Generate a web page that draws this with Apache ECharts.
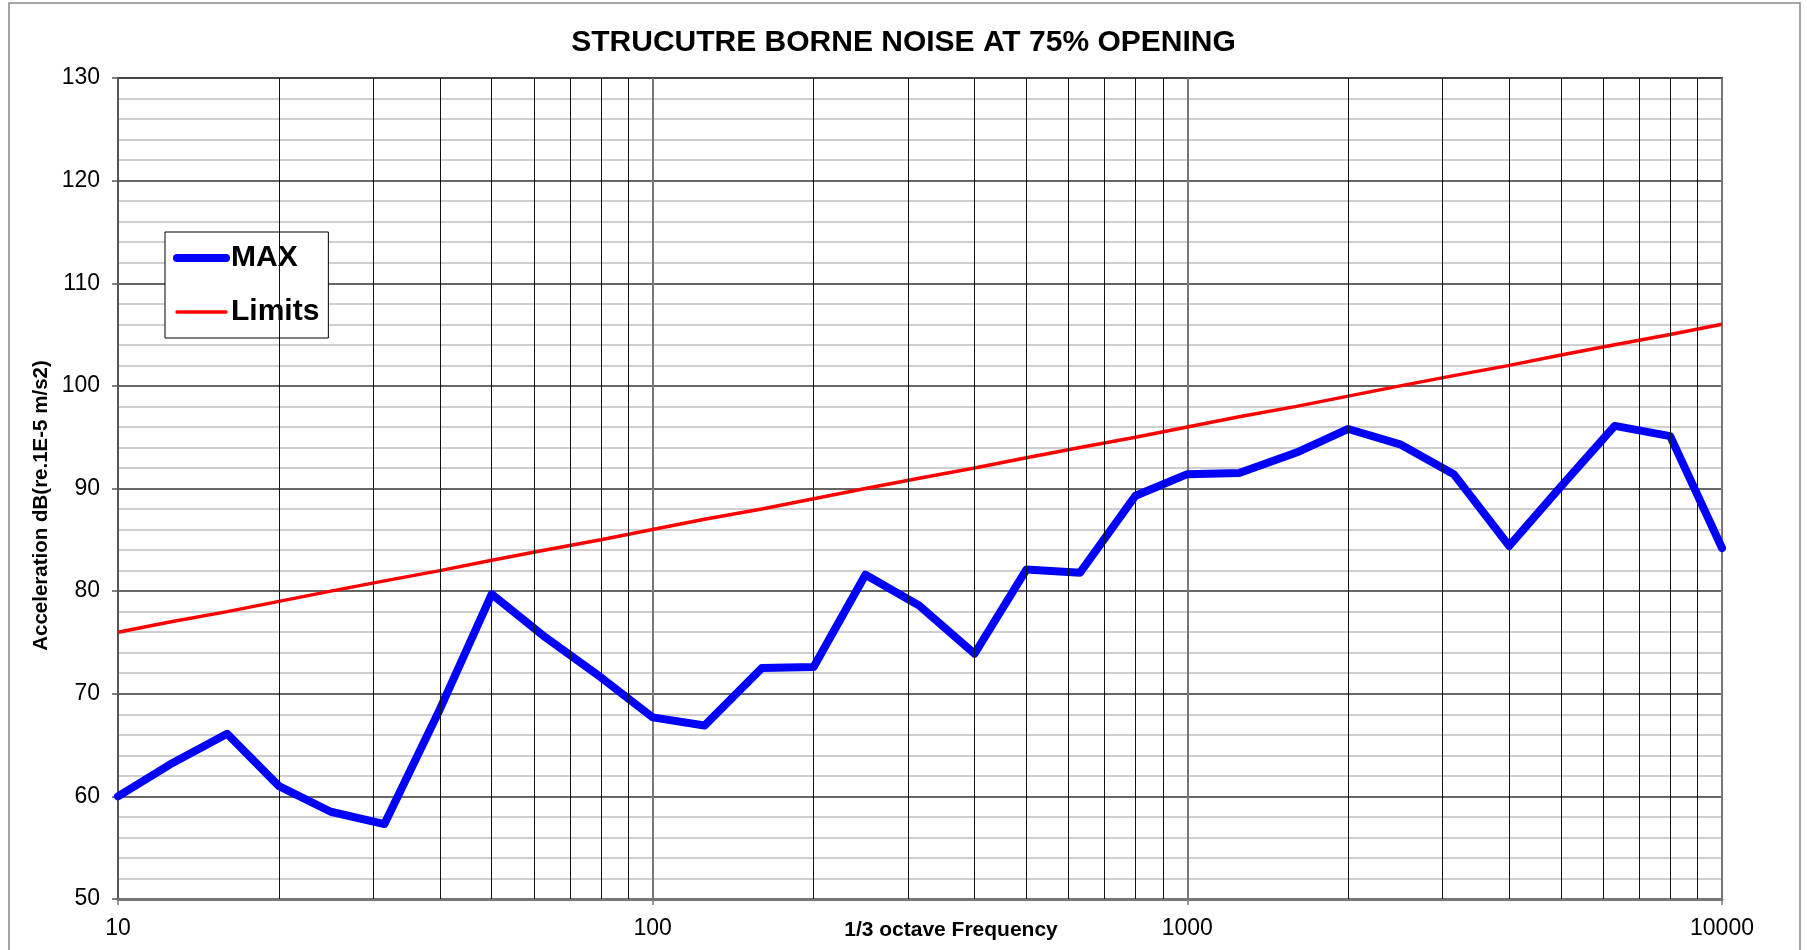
<!DOCTYPE html>
<html>
<head>
<meta charset="utf-8">
<title>Structure borne noise</title>
<script src="https://cdn.jsdelivr.net/npm/echarts@6/dist/echarts.min.js"></script>
<style>
  html, body { margin: 0; padding: 0; background: #fff; }
  #chart { width: 1807px; height: 950px; }
</style>
</head>
<body>
<div id="chart"></div>
<script>
// 1/3 octave band centre frequencies (Hz)
var freqs = [10, 12.5, 16, 20, 25, 31.5, 40, 50, 63, 80, 100, 125, 160, 200, 250, 315, 400,
  500, 630, 800, 1000, 1250, 1600, 2000, 2500, 3150, 4000, 5000, 6300, 8000, 10000];
// measured max (dB)
var maxValues = [60.0, 63.1, 66.1, 61.0, 58.5, 57.3, 68.5, 79.7, 75.5, 71.6, 67.7, 66.9, 72.5, 72.6, 81.6, 78.6, 73.9,
  82.1, 81.8, 89.3, 91.4, 91.5, 93.5, 95.8, 94.3, 91.4, 84.4, 90.2, 96.1, 95.1, 84.2];
// limit curve (dB)
var limitValues = [76, 77, 78, 79, 80, 81, 82, 83, 84, 85, 86, 87, 88, 89, 90, 91, 92,
  93, 94, 95, 96, 97, 98, 99, 100, 101, 102, 103, 104, 105, 106];
// intermediate log grid lines
var logGridLines = [20, 30, 40, 50, 60, 70, 80, 90, 200, 300, 400, 500, 600, 700, 800, 900,
  2000, 3000, 4000, 5000, 6000, 7000, 8000, 9000];

var sans = "'Liberation Sans', Arial, sans-serif";

function pairs(xs, ys) {
  return xs.map(function (x, i) { return [x, ys[i]]; });
}

var chart = echarts.init(document.getElementById('chart'));
var option = {
  backgroundColor: '#fff',
  animation: false,
  title: {
    text: 'STRUCUTRE BORNE NOISE AT 75% OPENING',
    left: 'center',
    top: 23,
    textStyle: { fontFamily: sans, fontWeight: 'bold', fontSize: 30, color: '#000' }
  },
  legend: {
    orient: 'vertical',
    left: 165,
    top: 232,
    padding: [11, 9, 11, 8],
    itemGap: 24,
    itemWidth: 49,
    itemHeight: 30,
    backgroundColor: '#fff',
    borderColor: '#000',
    borderWidth: 1,
    itemStyle: { opacity: 0 },
    textStyle: { fontFamily: sans, fontWeight: 'bold', fontSize: 30, color: '#000' },
    data: [
      { name: 'MAX', lineStyle: { width: 8, cap: 'round' } },
      { name: 'Limits', lineStyle: { width: 3.5, cap: 'round' } }
    ]
  },
  graphic: [{
    type: 'rect',
    shape: { x: 9, y: 3, width: 1791, height: 1000 },
    style: { fill: 'none', stroke: '#888', lineWidth: 1.5 },
    silent: true
  }],
  grid: {
    left: 118, right: 85, top: 78, bottom: 51,
    outerBoundsMode: 'none',
    show: true, borderColor: '#777', borderWidth: 2
  },
  xAxis: {
    type: 'log',
    logBase: 10,
    min: 10,
    max: 10000,
    name: '1/3 octave Frequency',
    nameLocation: 'middle',
    nameGap: 21,
    nameMoveOverlap: false,
    nameTextStyle: { fontFamily: sans, fontWeight: 'bold', fontSize: 21, color: '#000', padding: [0, 0, 0, 62] },
    axisLine: { lineStyle: { color: '#777', width: 3 } },
    axisTick: { show: true, length: 6, lineStyle: { color: '#777', width: 1.5 } },
    axisLabel: {
      margin: 18,
      fontFamily: sans, fontSize: 23, color: '#000',
      formatter: function (v) { return String(Math.round(v)); }
    },
    splitLine: { show: true, lineStyle: { color: '#777', width: 2 } }
  },
  yAxis: {
    type: 'value',
    min: 50,
    max: 130,
    interval: 10,
    name: 'Acceleration dB(re.1E-5 m/s2)',
    nameLocation: 'middle',
    nameGap: 66,
    nameMoveOverlap: false,
    nameRotate: 90,
    nameTextStyle: { fontFamily: sans, fontWeight: 'bold', fontSize: 20.5, color: '#000', padding: [0, 34, 0, 0] },
    axisLine: { show: true, lineStyle: { color: '#555', width: 2 } },
    axisTick: { show: true, length: 6, lineStyle: { color: '#555', width: 1.5 } },
    axisLabel: { margin: 18, fontFamily: sans, fontSize: 23, color: '#000' },
    splitLine: { show: true, lineStyle: { color: '#333', width: 1.5 } },
    minorTick: { show: false, splitNumber: 5 },
    minorSplitLine: { show: true, lineStyle: { color: '#cfcfcf', width: 2 } }
  },
  series: [
    {
      type: 'line',
      data: [],
      silent: true,
      z: 1,
      markLine: {
        silent: true,
        symbol: 'none',
        label: { show: false },
        lineStyle: { color: '#111', width: 1, type: 'solid' },
        data: logGridLines.map(function (f) { return { xAxis: f }; })
      }
    },
    {
      name: 'MAX',
      type: 'line',
      data: pairs(freqs, maxValues),
      symbol: 'none',
      z: 4,
      color: '#0000ff',
      lineStyle: { color: '#0000ff', width: 8, join: 'round', cap: 'round' }
    },
    {
      name: 'Limits',
      type: 'line',
      data: pairs(freqs, limitValues),
      symbol: 'none',
      z: 3,
      color: '#ff0000',
      lineStyle: { color: '#ff0000', width: 3.5 }
    }
  ]
};
chart.setOption(option);
</script>
</body>
</html>
